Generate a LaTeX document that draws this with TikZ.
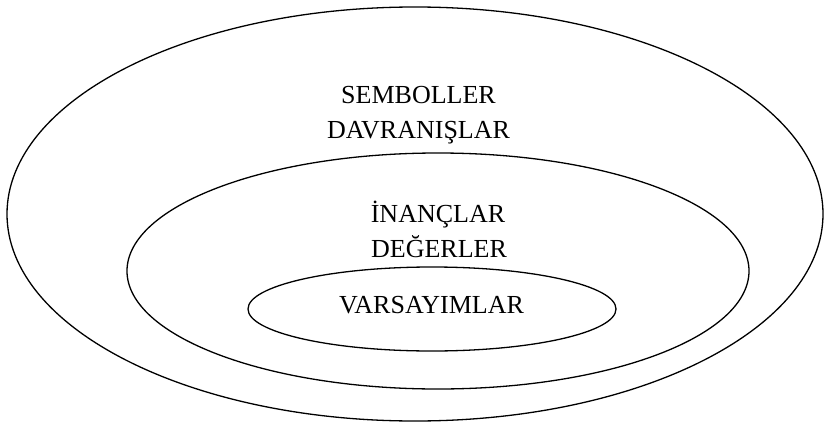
\documentclass[tikz,border=0pt]{standalone}
\usepackage{fontspec}
\setmainfont{Liberation Serif}
\usetikzlibrary{positioning}

\begin{document}
\begin{tikzpicture}[
    x=1pt, y=-1pt,
    % Styles for layers and labels
    layer/.style={line width=1.3pt, draw=black},
    word/.style={anchor=base, inner sep=0pt, font=\fontsize{26}{35}\selectfont}
]
        \useasboundingbox (0,0) rectangle (825,423);

        % --- Centres ---
        \coordinate (outer) at (415, 214);
        \coordinate (middle) at (438, 271);
        \coordinate (inner) at (432, 309);

        % --- Layers ---
        \draw[layer] (outer) ellipse [x radius=408, y radius=207];
        \draw[layer] (middle) ellipse [x radius=311, y radius=118];
        \draw[layer] (inner) ellipse [x radius=184, y radius=42];

        % --- Labels ---
        % Outer layer
        \node[word] (sem) at (418.5, 103) {SEMBOLLER};
        \node[word] (dav) at (418.5, 138) {DAVRANIŞLAR};
        % Middle layer
        \node[word] (ina) at (438, 222) {İNANÇLAR};
        \node[word] (deg) at (439, 257) {DEĞERLER};
        % Inner layer
        \node[word] (var) at (431.5, 313) {VARSAYIMLAR};

\end{tikzpicture}
\end{document}
